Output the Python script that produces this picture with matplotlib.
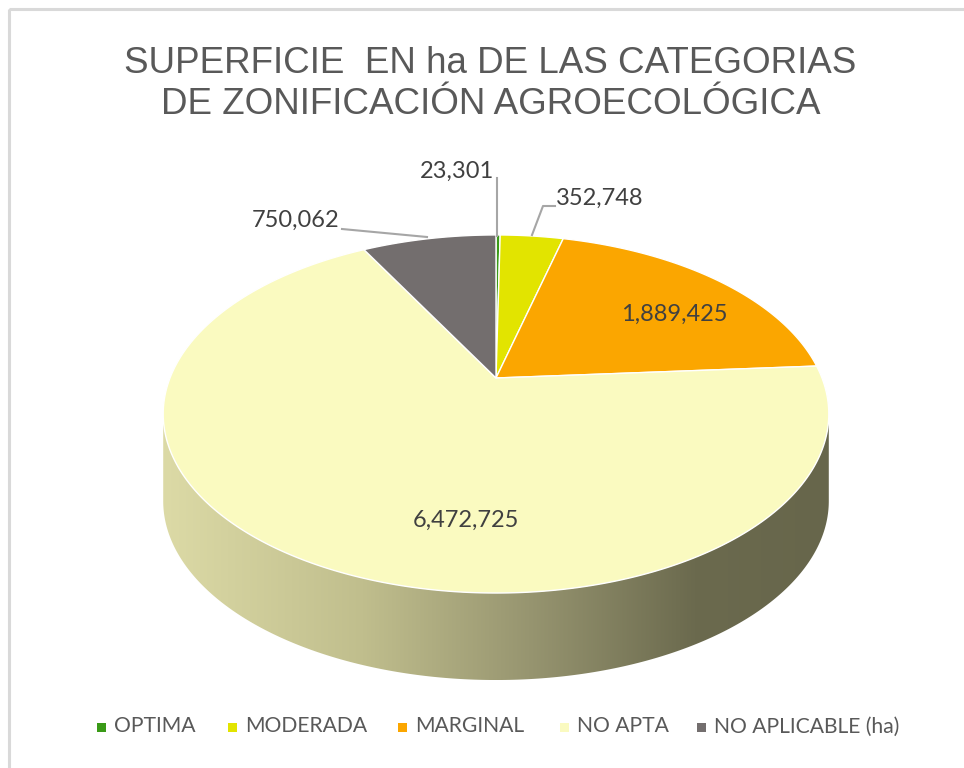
import numpy as np
import matplotlib
matplotlib.use("Agg")
import matplotlib.pyplot as plt
from matplotlib.patches import Polygon, Rectangle
from matplotlib.colors import LinearSegmentedColormap

# ---- data ----
categories = ["OPTIMA", "MODERADA", "MARGINAL", "NO APTA", "NO APLICABLE (ha)"]
values = [23301, 352748, 1889425, 6472725, 750062]
value_labels = ["23,301", "352,748", "1,889,425", "6,472,725", "750,062"]
colors = ["#3a9a17", "#e2e400", "#fba600", "#fafac0", "#736e6e"]
title_lines = ["SUPERFICIE  EN ha DE LAS CATEGORIAS", "DE ZONIFICACIÓN AGROECOLÓGICA"]

NARROW = ["Lato", "DejaVu Sans"]
TITLE_FONT = ["Liberation Sans", "DejaVu Sans"]
TEXT_GRAY = "#595959"
LABEL_COL = "#404040"

fig = plt.figure(figsize=(9.64, 7.68), dpi=100)
ax = fig.add_axes([0, 0, 1, 1])
ax.set_xlim(0, 964)
ax.set_ylim(768, 0)
ax.axis("off")

# chart frame (only top/left visible)
ax.add_patch(Rectangle((9, 9), 1100, 1100, fill=False, edgecolor="#d9d9d9", lw=2.2))

# ---- perspective projection of the pie disk ----
cx, cy = 496, 378
R, Ry, k = 326, 171.8, 0.201
depth = 87

def proj(t, r=1.0):
    x = r * np.cos(t)
    y = r * np.sin(t)
    w = 1 + k * y
    return cx + R * x / w, cy - Ry * y / w

# side (extrusion) of the pie
t_side = np.linspace(np.pi + np.arcsin(k), 2 * np.pi - np.arcsin(k), 300)
tx, ty = proj(t_side)
side_xy = np.concatenate([np.column_stack([tx, ty]),
                          np.column_stack([tx[::-1], ty[::-1] + depth])])
side_poly = Polygon(side_xy, closed=True, facecolor="none", edgecolor="none")
ax.add_patch(side_poly)
grad_cmap = LinearSegmentedColormap.from_list(
    "side", [(0.0, "#dcdaa6"), (0.3, "#c0be8d"), (0.55, "#979570"),
             (0.8, "#6b6a4e"), (1.0, "#67664b")])
grad = np.linspace(0, 1, 256).reshape(1, -1)
im = ax.imshow(grad, cmap=grad_cmap, aspect="auto",
               extent=(tx.min(), tx.max(), ty.max() + depth, ty.min()),
               interpolation="bilinear", zorder=1)
im.set_clip_path(side_poly)

# top slices: start at 12 o'clock, clockwise
fracs = np.array(values, dtype=float) / np.sum(values)
cum = np.concatenate([[0], np.cumsum(fracs)])
for i, c in enumerate(colors):
    a1 = np.pi / 2 - 2 * np.pi * cum[i]
    a2 = np.pi / 2 - 2 * np.pi * cum[i + 1]
    n = max(3, int(abs(a2 - a1) / (2 * np.pi) * 600))
    ts = np.linspace(a1, a2, n)
    px, py = proj(ts)
    pts = np.vstack([[cx, cy], np.column_stack([px, py])])
    ax.add_patch(Polygon(pts, closed=True, facecolor=c, edgecolor="white",
                         lw=1.0, joinstyle="round", zorder=2))

# ---- data labels ----
lbl_kw = dict(family=NARROW, fontsize=17, color=LABEL_COL, zorder=5)
lead_kw = dict(color="#a6a6a6", lw=1.5, zorder=4)
# OPTIMA
ax.plot([497, 497], [178, 236], **lead_kw)
ax.text(494, 171, value_labels[0], ha="right", va="center", **lbl_kw)
# MODERADA
ax.plot([555, 543, 532], [206, 206, 235], **lead_kw)
ax.text(556, 198, value_labels[1], ha="left", va="center", **lbl_kw)
# MARGINAL
ax.text(674, 314, value_labels[2], ha="center", va="center", **lbl_kw)
# NO APTA
ax.text(466, 520, value_labels[3], ha="center", va="center", **lbl_kw)
# NO APLICABLE
ax.plot([342, 427], [229, 237], **lead_kw)
ax.text(339, 220, value_labels[4], ha="right", va="center", **lbl_kw)

# ---- title ----
ax.text(490, 73, title_lines[0], ha="center", va="baseline", family=TITLE_FONT,
        fontsize=26.5, color=TEXT_GRAY)
ax.text(491, 114, title_lines[1], ha="center", va="baseline", family=TITLE_FONT,
        fontsize=26.5, color=TEXT_GRAY)

# ---- legend (manual, Excel style) ----
leg_marker_x = [97, 228, 398, 560, 697]
leg_y = 727.5
for xm, c, name in zip(leg_marker_x, colors, categories):
    ax.add_patch(Rectangle((xm, leg_y - 4.5), 8.5, 9, facecolor=c, edgecolor="none"))
    ax.text(xm + 17, leg_y - 1, name, ha="left", va="center", family=NARROW,
            fontsize=15.2, color=TEXT_GRAY)

fig.savefig("out.png", dpi=100, facecolor="white")
